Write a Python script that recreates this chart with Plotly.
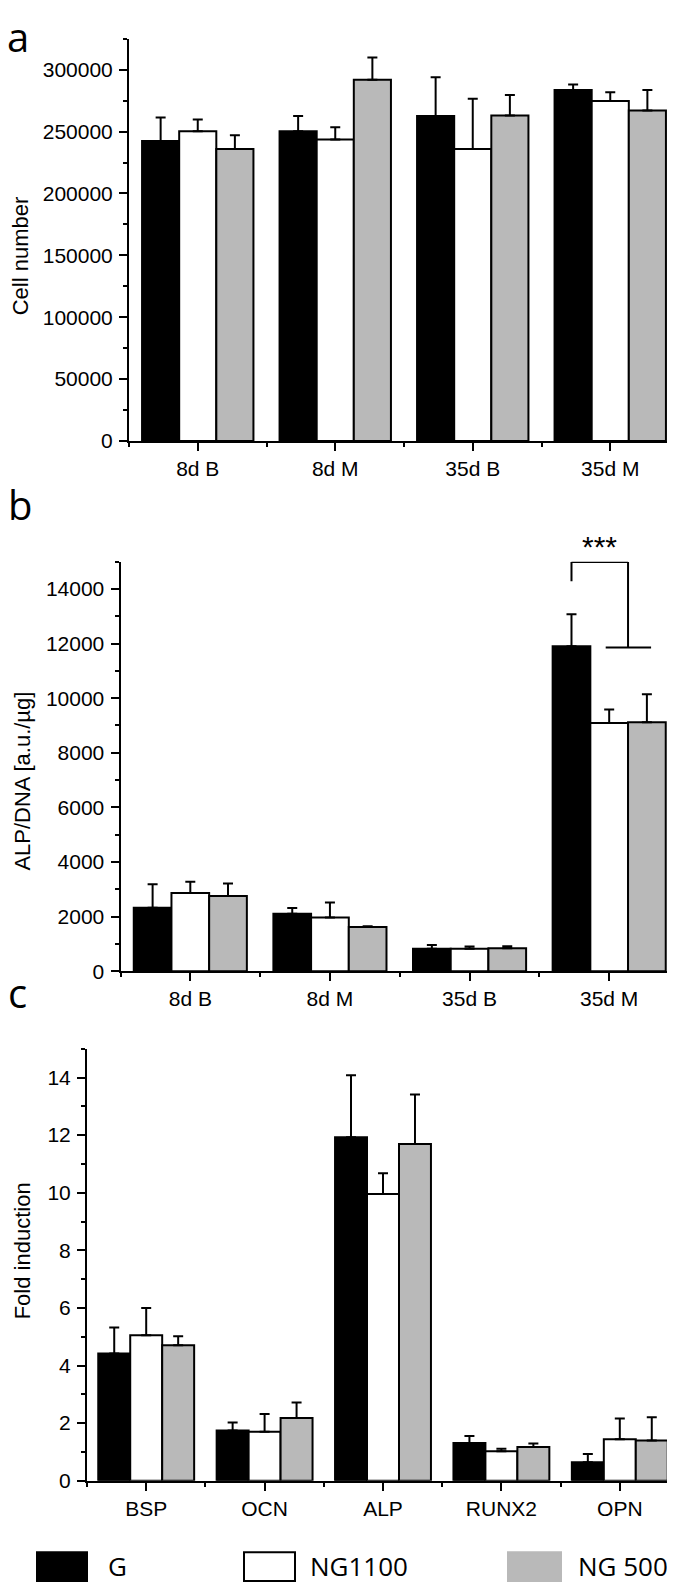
import plotly.graph_objects as go

# ---------------- data ----------------
groups = ["G", "NG1100", "NG 500"]
group_colors = ["#000000", "#ffffff", "#b9b9b9"]

cats_a = ["8d B", "8d M", "35d B", "35d M"]
cell_G = [242400, 250200, 262700, 283600]
cell_G_err = [19000, 12500, 31300, 4500]
cell_NG1100 = [250200, 243700, 236000, 274700]
cell_NG1100_err = [9600, 9900, 40600, 7000]
cell_NG500 = [236000, 291900, 263000, 267000]
cell_NG500_err = [11000, 17900, 16500, 16600]

cats_b = ["8d B", "8d M", "35d B", "35d M"]
alp_G = [2325, 2103, 829, 11898]
alp_G_err = [866, 210, 136, 1175]
alp_NG1100 = [2870, 1966, 829, 9091]
alp_NG1100_err = [408, 557, 74, 495]
alp_NG500 = [2758, 1620, 841, 9116]
alp_NG500_err = [458, 25, 74, 1026]

cats_c = ["BSP", "OCN", "ALP", "RUNX2", "OPN"]
fold_G = [4.42, 1.74, 11.93, 1.31, 0.64]
fold_G_err = [0.90, 0.28, 2.15, 0.24, 0.29]
fold_NG1100 = [5.05, 1.70, 9.96, 1.02, 1.44]
fold_NG1100_err = [0.95, 0.62, 0.72, 0.09, 0.72]
fold_NG500 = [4.70, 2.18, 11.69, 1.17, 1.40]
fold_NG500_err = [0.32, 0.54, 1.72, 0.12, 0.80]

W, H = 675, 1587
BARGAP = 0.19
TICKFONT = dict(family="Liberation Sans, Arial", size=21, color="black")
TITLEFONT = dict(family="Liberation Sans, Arial", size=22, color="black")
LETTERFONT = dict(family="Open Sans, Noto Sans", size=40, color="black")
LEGFONT = dict(family="Open Sans, Noto Sans", size=26, color="black")


def px(x):
    return x / W


def py(y):
    return 1 - y / H


fig = go.Figure()

panels = [
    ("x", "y", cats_a, [(cell_G, cell_G_err), (cell_NG1100, cell_NG1100_err), (cell_NG500, cell_NG500_err)]),
    ("x2", "y2", cats_b, [(alp_G, alp_G_err), (alp_NG1100, alp_NG1100_err), (alp_NG500, alp_NG500_err)]),
    ("x3", "y3", cats_c, [(fold_G, fold_G_err), (fold_NG1100, fold_NG1100_err), (fold_NG500, fold_NG500_err)]),
]

for xa, ya, cats, series in panels:
    xs = list(range(len(cats)))
    for gi, (vals, errs) in enumerate(series):
        fig.add_trace(go.Bar(
            x=xs, y=vals, name=groups[gi], xaxis=xa, yaxis=ya, showlegend=False,
            marker=dict(color=group_colors[gi], line=dict(color="black", width=2)),
            error_y=dict(type="data", symmetric=False, array=errs, arrayminus=[0] * len(errs),
                         color="black", thickness=2, width=5),
        ))


def xaxis_cfg(cats, domain, anchor):
    n = len(cats)
    return dict(
        domain=domain, anchor=anchor, range=[-0.5, n - 0.5],
        tickmode="array", tickvals=list(range(n)), ticktext=cats,
        showline=True, linecolor="black", linewidth=2,
        ticks="outside", ticklen=8, tickwidth=2, tickcolor="black",
        showgrid=False, zeroline=False, tickfont=TICKFONT,
        minor=dict(tickmode="array", tickvals=[i - 0.5 for i in range(n + 1)],
                   ticks="outside", ticklen=4, tickwidth=2, tickcolor="black", showgrid=False),
    )


def yaxis_cfg(domain, anchor, top, dtick):
    return dict(
        domain=domain, anchor=anchor, range=[0, top],
        tickmode="linear", tick0=0, dtick=dtick, tickformat="d",
        showline=True, linecolor="black", linewidth=2,
        ticks="outside", ticklen=8, tickwidth=2, tickcolor="black",
        showgrid=False, zeroline=False, tickfont=TICKFONT, ticklabelstandoff=2,
        minor=dict(tickmode="linear", tick0=0, dtick=dtick / 2,
                   ticks="outside", ticklen=4, tickwidth=2, tickcolor="black", showgrid=False),
    )


fig.update_layout(
    width=W, height=H, margin=dict(l=0, r=0, t=0, b=0),
    paper_bgcolor="white", plot_bgcolor="white",
    barmode="group", bargap=BARGAP, bargroupgap=0,
    xaxis=xaxis_cfg(cats_a, [px(121), px(671)], "y"),
    yaxis=yaxis_cfg([py(436), py(31)], "x", 325000, 50000),
    xaxis2=xaxis_cfg(cats_b, [px(112.5), px(671)], "y2"),
    yaxis2=yaxis_cfg([py(970), py(557.5)], "x2", 15000, 2000),
    xaxis3=xaxis_cfg(cats_c, [px(79), px(671)], "y3"),
    yaxis3=yaxis_cfg([py(1483), py(1048)], "x3", 15, 2),
)

annotations = []
# panel letters
annotations.append(dict(text="a", x=px(-2), y=1, xref="paper", yref="paper", borderpad=0,
                        xanchor="left", yanchor="top", showarrow=False, font=LETTERFONT))
for letter, yc in [("b", 500), ("c", 991)]:
    annotations.append(dict(text=letter, x=px(-2), y=py(yc), xref="paper", yref="paper",
                            xanchor="left", yanchor="middle", showarrow=False, font=LETTERFONT))
# axis titles
for title, xc, yc in [("Cell number", 12, 250), ("ALP/DNA [a.u./µg]", 15, 779), ("Fold induction", 14, 1252)]:
    annotations.append(dict(text=title, x=px(xc), y=py(yc), xref="paper", yref="paper",
                            xanchor="center", yanchor="middle", textangle=-90,
                            showarrow=False, font=TITLEFONT))

# significance bracket on 35d M of panel b
w = (1 - BARGAP) / 3
k = len(cats_b) - 1
xb, xw, xg = k - w, k, k + w
y_top = 14990
y_left_end = 14280
y_right_end = alp_G[k] - 40
line = dict(color="black", width=2)
shapes = [
    dict(type="line", xref="x2", yref="y2", x0=xb, x1=xb, y0=y_left_end, y1=y_top, line=line),
    dict(type="line", xref="x2", yref="y2", x0=xb, x1=(xw + xg) / 2, y0=y_top, y1=y_top, line=line),
    dict(type="line", xref="x2", yref="y2", x0=(xw + xg) / 2, x1=(xw + xg) / 2, y0=y_top, y1=y_right_end, line=line),
    dict(type="line", xref="x2", yref="y2", x0=xw - 0.025, x1=xg + 0.03, y0=y_right_end, y1=y_right_end, line=line),
]
annotations.append(dict(text="***", x=(xb + (xw + xg) / 2) / 2, xref="x2", y=py(542), yref="paper",
                        xanchor="center", yanchor="middle", showarrow=False,
                        font=dict(family="Liberation Sans, Arial", size=30, color="black")))

# legend drawn manually
leg_boxes = [(29, 79), (236, 287), (500, 553)]
leg_text_x = [98, 300, 568]
for gi, name in enumerate(groups):
    x0, x1 = leg_boxes[gi]
    shapes.append(dict(type="rect", xref="paper", yref="paper", x0=px(x0), x1=px(x1),
                       y0=py(1584), y1=py(1555), fillcolor=group_colors[gi],
                       line=dict(color="black" if gi < 2 else group_colors[gi], width=2)))
    annotations.append(dict(text=name, x=px(leg_text_x[gi]), y=py(1569), xref="paper", yref="paper",
                            xanchor="left", yanchor="middle", showarrow=False, font=LEGFONT))

fig.update_layout(annotations=annotations, shapes=shapes)
fig.write_html("out.html")
